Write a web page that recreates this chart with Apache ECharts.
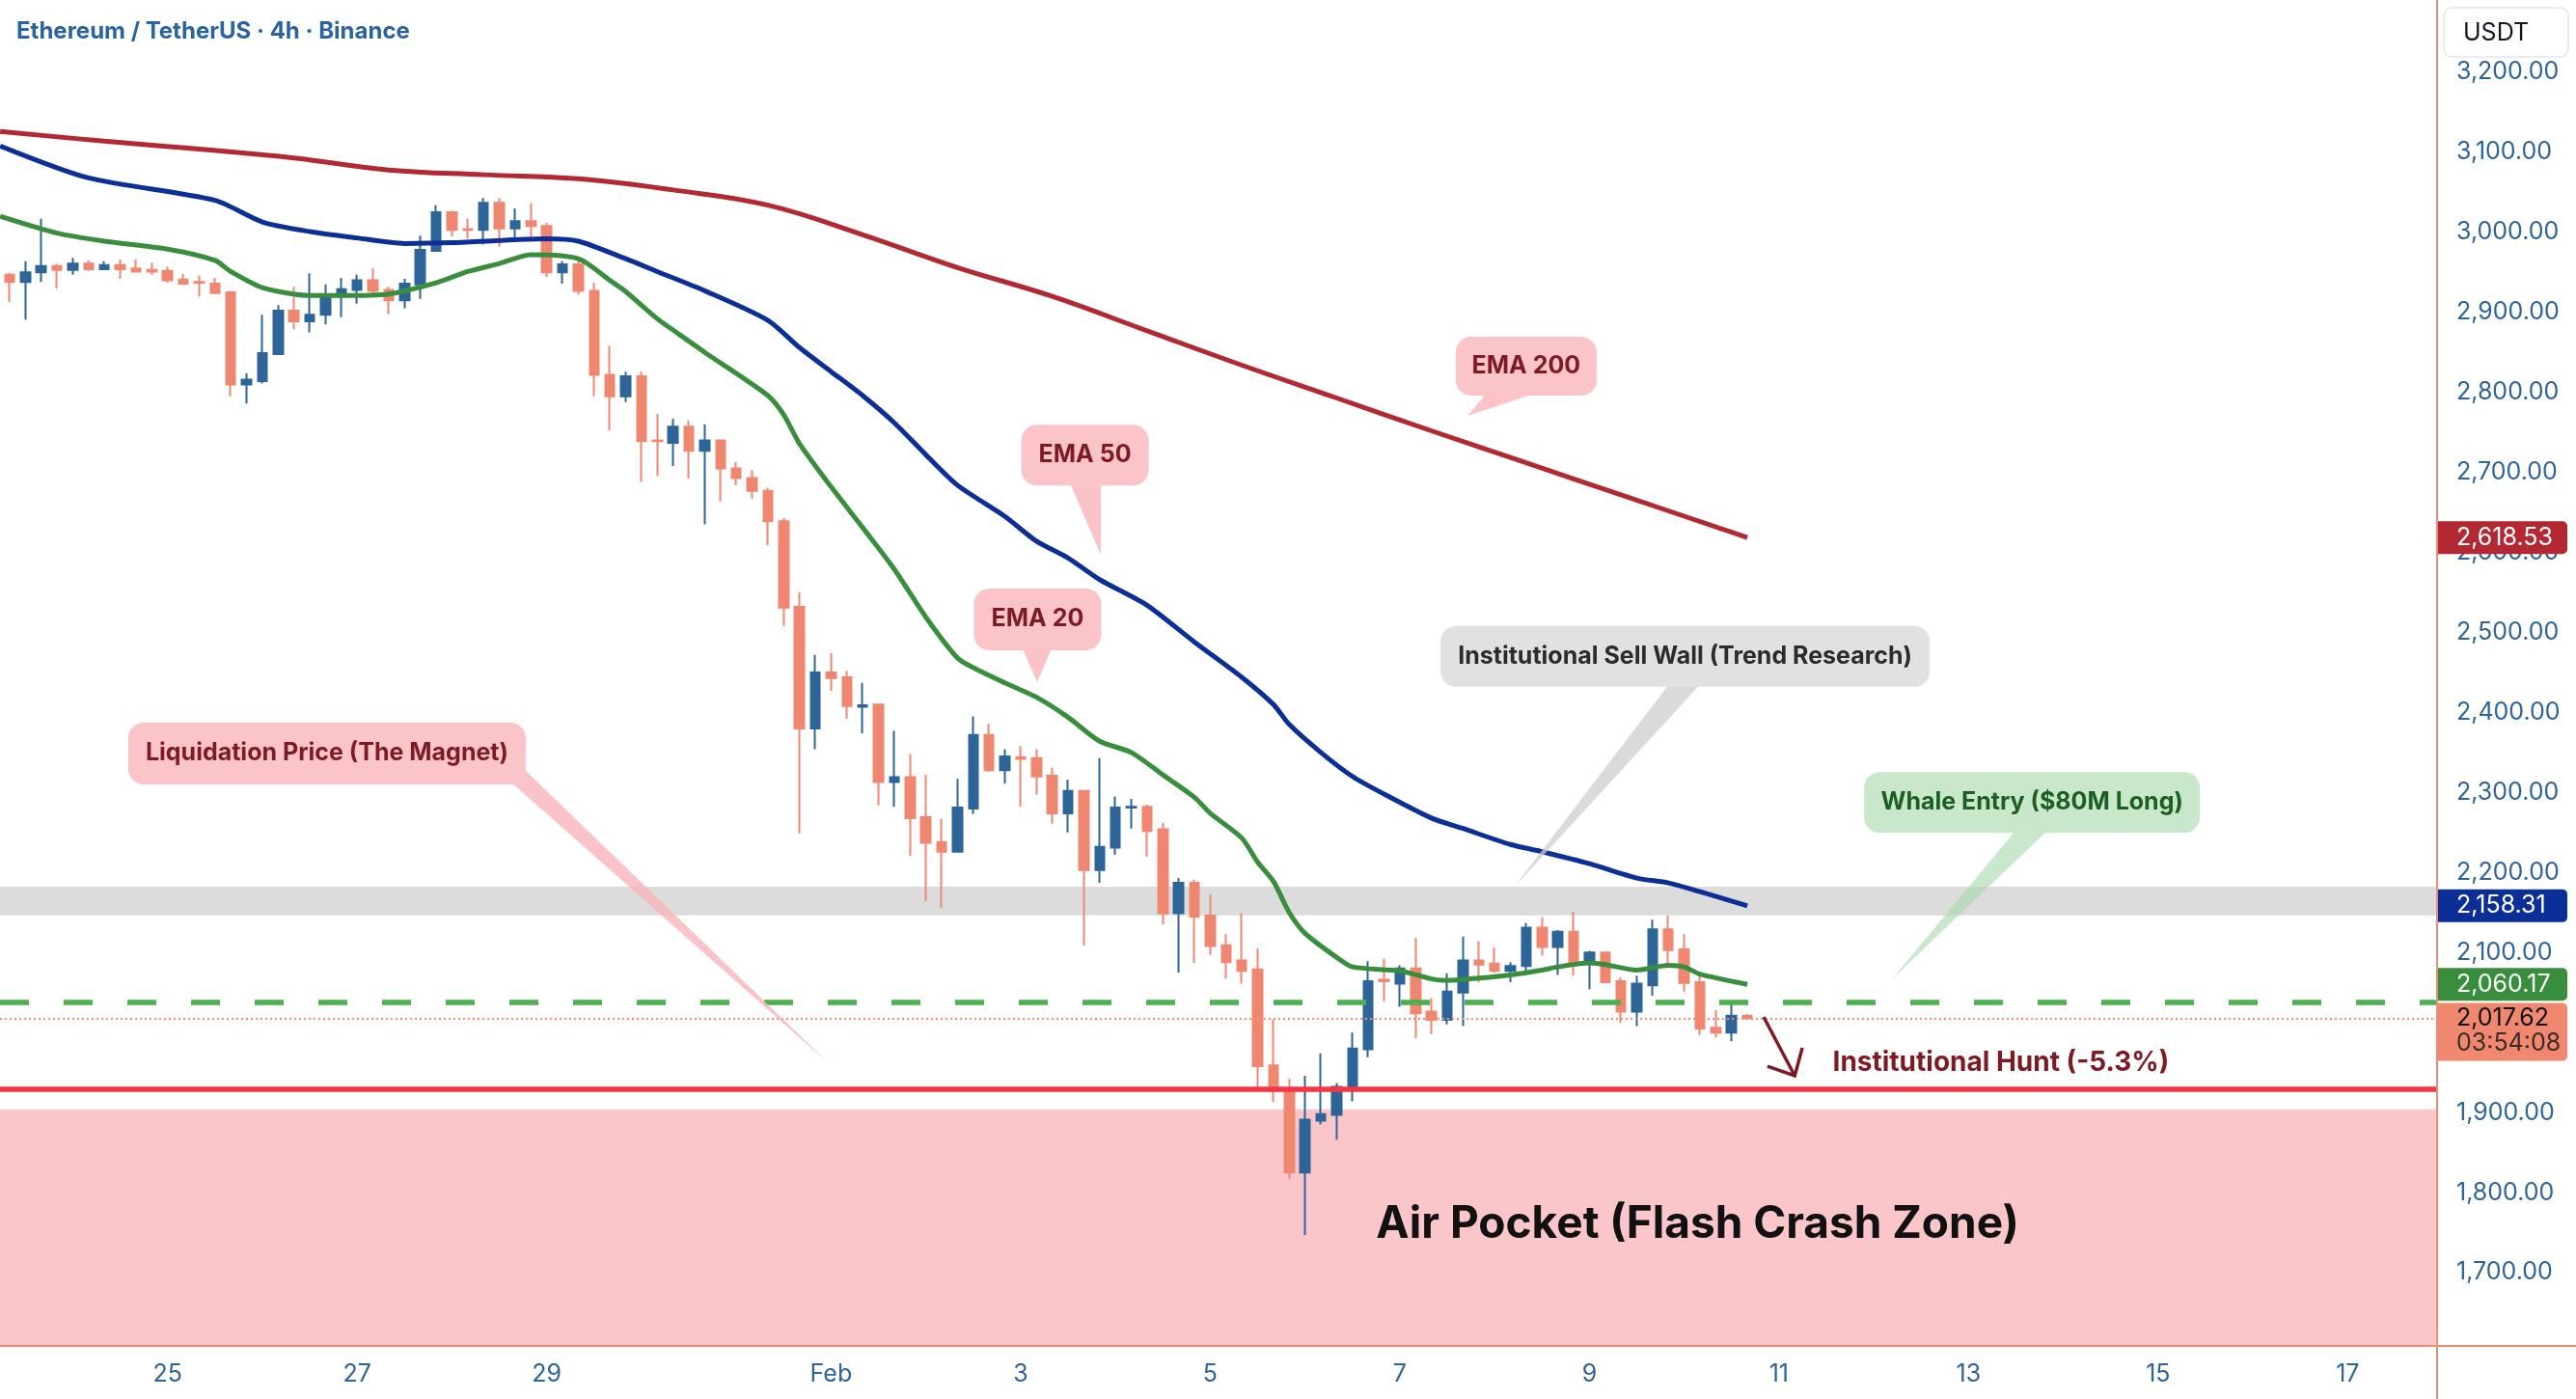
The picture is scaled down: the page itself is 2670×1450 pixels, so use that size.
<!DOCTYPE html>
<html>
<head>
<meta charset="utf-8">
<title>ETH/USDT 4h</title>
<script src="https://cdn.jsdelivr.net/npm/echarts@6/dist/echarts.min.js"></script>
<style>
  html, body { margin: 0; padding: 0; background: #ffffff; }
  #chart { width: 2670px; height: 1450px; }
</style>
</head>
<body>
<div id="chart"></div>
<script>
// bar 0 = 23 Jan 08:00 UTC, one bar every 4 hours
const barStart = Date.UTC(2026, 0, 23, 8);
const barHours = 4;

// candles
const opens = [
  2947, 2938, 2950, 2958, 2953, 2961, 2954, 2959, 2955, 2953,
  2952, 2941, 2938, 2936, 2925, 2810, 2814, 2848, 2902, 2889,
  2897, 2920, 2928, 2940, 2928, 2915, 2935, 2977, 3025, 3004,
  3003, 3037, 3005, 3014, 3008, 2950, 2960, 2927, 2822, 2795,
  2820, 2740, 2737, 2757, 2727, 2740, 2705, 2693, 2677, 2639,
  2532, 2380, 2450, 2444, 2407, 2410, 2313, 2319, 2269, 2238,
  2226, 2280, 2372, 2328, 2344, 2343, 2321, 2274, 2302, 2203,
  2231, 2281, 2282, 2254, 2149, 2187, 2146, 2109, 2090, 2079,
  1959, 1928, 1825, 1890, 1897, 1931, 1979, 2066, 2061, 2080,
  2026, 2016, 2050, 2090, 2086, 2077, 2083, 2131, 2107, 2126,
  2087, 2100, 2064, 2026, 2059, 2129, 2104, 2063, 2006, 2000,
  2021
];
const closes = [
  2938, 2950, 2958, 2953, 2961, 2954, 2959, 2954, 2951, 2951,
  2940, 2936, 2937, 2924, 2810, 2816, 2849, 2902, 2889, 2897,
  2922, 2929, 2940, 2927, 2915, 2936, 2978, 3025, 3003, 3003,
  3037, 3005, 3014, 3008, 2950, 2960, 2927, 2822, 2795, 2820,
  2739, 2739, 2757, 2727, 2740, 2705, 2693, 2677, 2639, 2531,
  2380, 2450, 2443, 2408, 2409, 2313, 2319, 2268, 2237, 2226,
  2281, 2372, 2328, 2345, 2342, 2320, 2274, 2302, 2203, 2232,
  2281, 2282, 2252, 2149, 2187, 2145, 2108, 2088, 2077, 1958,
  1927, 1825, 1891, 1898, 1932, 1980, 2064, 2064, 2080, 2024,
  2016, 2051, 2090, 2085, 2077, 2083, 2131, 2107, 2126, 2087,
  2100, 2063, 2026, 2061, 2129, 2103, 2062, 2005, 2000, 2021,
  2017.62
];
const lows = [
  2913, 2891, 2938, 2930, 2947, 2952, 2953, 2942, 2951, 2947,
  2937, 2934, 2920, 2924, 2795, 2786, 2811, 2848, 2879, 2875,
  2885, 2894, 2911, 2924, 2898, 2905, 2917, 2977, 2995, 2992,
  2985, 2982, 2988, 2995, 2944, 2936, 2922, 2795, 2753, 2788,
  2688, 2696, 2708, 2692, 2635, 2664, 2684, 2667, 2609, 2508,
  2249, 2354, 2427, 2392, 2374, 2284, 2282, 2221, 2164, 2156,
  2226, 2273, 2326, 2311, 2282, 2297, 2261, 2250, 2109, 2187,
  2222, 2255, 2220, 2135, 2075, 2087, 2097, 2067, 2061, 1926,
  1913, 1817, 1747, 1885, 1866, 1914, 1969, 2039, 2032, 1993,
  1998, 2010, 2008, 2063, 2075, 2063, 2077, 2096, 2072, 2071,
  2054, 2063, 2012, 2008, 2046, 2087, 2051, 1997, 1994, 1989,
  2016
];
const highs = [
  2949, 2964, 3017, 2961, 2968, 2965, 2964, 2966, 2966, 2962,
  2957, 2948, 2946, 2943, 2927, 2824, 2897, 2909, 2932, 2949,
  2935, 2943, 2947, 2955, 2932, 2942, 2996, 3034, 3027, 3017,
  3043, 3043, 3030, 3036, 3012, 2964, 2968, 2937, 2858, 2826,
  2826, 2773, 2767, 2765, 2760, 2740, 2713, 2703, 2681, 2643,
  2550, 2472, 2474, 2452, 2437, 2410, 2377, 2348, 2322, 2267,
  2317, 2395, 2386, 2354, 2358, 2354, 2331, 2316, 2302, 2343,
  2295, 2292, 2285, 2262, 2193, 2191, 2173, 2123, 2149, 2105,
  2016, 1942, 1946, 1974, 1937, 2000, 2089, 2092, 2084, 2118,
  2043, 2074, 2120, 2114, 2106, 2088, 2137, 2144, 2128, 2151,
  2102, 2101, 2069, 2071, 2141, 2146, 2123, 2073, 2028, 2039,
  2023
];

// moving averages at these bars
const ema20Bars = [-0.6, 3, 6, 10, 13, 14, 16, 19, 21, 24, 27, 29, 31, 33, 36, 38, 39, 41, 43, 44, 48, 49, 50, 52, 54, 56, 58, 60, 61, 63, 65, 67, 69, 71, 73, 75, 76, 78, 79, 80, 81, 82, 84, 85, 88, 90, 91, 93, 95, 97, 98, 100, 101, 103, 105, 106, 107, 110];
const ema20 = [3020, 2999, 2989, 2979, 2965, 2951, 2931, 2921, 2921, 2923, 2937, 2951, 2961, 2972, 2967, 2940, 2926, 2892, 2864, 2850, 2796, 2772, 2736, 2682, 2631, 2579, 2519, 2468, 2456, 2437, 2419, 2394, 2364, 2350, 2322, 2294, 2274, 2243, 2213, 2189, 2150, 2124, 2094, 2082, 2077, 2067, 2065, 2068, 2072, 2078, 2082, 2087, 2085, 2078, 2084, 2082, 2073, 2060.17];
const ema50Bars = [-0.6, 5, 13, 16, 19, 22, 25, 28, 31, 34, 36, 39, 41, 44, 48, 50, 52, 54, 56, 58, 60, 63, 65, 67, 69, 72, 75, 78, 80, 81, 83, 85, 87, 90, 92, 95, 97, 100, 103, 105, 107, 110];
const ema50 = [3108, 3068, 3040, 3013, 3001, 2993, 2986, 2987, 2990, 2992, 2989, 2967, 2951, 2927, 2890, 2856, 2826, 2796, 2762, 2722, 2684, 2645, 2614, 2593, 2566, 2534, 2488, 2444, 2410, 2385, 2350, 2320, 2298, 2268, 2255, 2235, 2226, 2211, 2193, 2187, 2176, 2158.31];
const ema200Bars = [-0.6, 6, 12, 18, 24, 30, 36, 42, 48, 54, 60, 66, 72, 78, 84, 90, 96, 102, 110];
const ema200 = [3126, 3114, 3104, 3093, 3078, 3072, 3067, 3053, 3034, 2997, 2956, 2920, 2877, 2834, 2793, 2752, 2712, 2672, 2618.53];

// levels
const sellWall = [2146.5, 2182.3];
const whaleEntry = 2038;
const liquidation = 1929;
const airPocketTop = 1904;
const lastPrice = 2017.62;
const countdown = '03:54:08';

// axis ticks
const tickDates = ['2026-01-25', '2026-01-27', '2026-01-29', '2026-02-01', '2026-02-03', '2026-02-05', '2026-02-07', '2026-02-09', '2026-02-11', '2026-02-13', '2026-02-15', '2026-02-17'];
const tickLabels = ['25', '27', '29', 'Feb', '3', '5', '7', '9', '11', '13', '15', '17'];
const priceTicks = [1700, 1800, 1900, 2000, 2100, 2200, 2300, 2400, 2500, 2600, 2700, 2800, 2900, 3000, 3100, 3200];

const W = 2670, H = 1450;
const gridRight = 144, gridBottom = 55;
const axisX = W - gridRight, axisY = H - gridBottom;
const upColor = '#2d6599', downColor = '#ef8670';
const axisColor = '#ef8a73', labelColor = '#2f6497';
const font = 'Inter';

const tickIdx = tickDates.map(d => (Date.parse(d + 'T00:00:00Z') - barStart) / (barHours * 3600e3));
const labelAt = {};
tickIdx.forEach((v, k) => { labelAt[v] = tickLabels[k]; });
const fmt = v => v.toLocaleString('en-US', { minimumFractionDigits: 2, maximumFractionDigits: 2 });

const candles = opens.map((o, i) => [i, o, closes[i], lows[i], highs[i]]);
const pairs = (xs, ys) => xs.map((x, k) => [x, ys[k]]);

function emaLine(name, xs, ys, color, smooth) {
  return {
    name: name, type: 'line', z: 3,
    data: pairs(xs, ys),
    showSymbol: false, smooth: smooth,
    lineStyle: { color: color, width: 5 },
    silent: true
  };
}

const chart = echarts.init(document.getElementById('chart'));

const option = {
  animation: false,
  backgroundColor: '#ffffff',
  title: {
    text: 'Ethereum / TetherUS · 4h · Binance',
    left: 17, top: 21, padding: 0,
    textStyle: { color: '#2a64a0', fontSize: 24, fontWeight: 'bold', fontFamily: font }
  },
  grid: { left: 0, right: gridRight, top: 0, bottom: gridBottom },
  xAxis: {
    type: 'value', min: -0.61, max: 153.66,
    axisLine: { show: false, onZero: false },
    axisTick: { show: false },
    splitLine: { show: false },
    axisLabel: {
      customValues: tickIdx,
      formatter: v => labelAt[Math.round(v)] || '',
      color: labelColor, fontSize: 25, fontFamily: font, margin: 17
    }
  },
  yAxis: {
    type: 'value', position: 'right', min: 1608.3, max: 3290.4,
    axisLine: { show: false, onZero: false },
    axisTick: { show: false },
    splitLine: { show: false },
    axisLabel: {
      customValues: priceTicks,
      formatter: v => fmt(v),
      color: labelColor, fontSize: 25, fontFamily: font, margin: 20
    }
  },
  series: [
    {
      name: 'ETHUSDT', type: 'candlestick', z: 2,
      data: candles,
      barWidth: 10,
      itemStyle: {
        color: upColor, color0: downColor,
        borderColor: upColor, borderColor0: downColor,
        borderWidth: 2
      },
      markArea: {
        silent: true,
        data: [
          [{ yAxis: sellWall[0], itemStyle: { color: '#dcdcdc' } }, { yAxis: sellWall[1] }],
          [{ yAxis: 1608.3, itemStyle: { color: '#fac6ca' } }, { yAxis: airPocketTop }]
        ]
      },
      markLine: {
        silent: true, symbol: 'none', label: { show: false },
        data: [
          { yAxis: whaleEntry, lineStyle: { color: '#4caf50', width: 5.5, type: [30, 36] } },
          { yAxis: liquidation, lineStyle: { color: '#f23645', width: 5.5, type: 'solid' } },
          { yAxis: lastPrice, lineStyle: { color: '#f08a70', width: 2, type: [2, 3] } }
        ]
      }
    },
    emaLine('EMA 200', ema200Bars, ema200, '#b22833', 0.4),
    emaLine('EMA 50', ema50Bars, ema50, '#0c2f97', 0.25),
    emaLine('EMA 20', ema20Bars, ema20, '#388e3c', 0.25)
  ]
};

chart.setOption(option);

// annotations anchored to (bar, price)
const themes = {
  pink: { fill: '#fac4c9', tail: 'rgba(248,180,188,0.8)', ink: '#7d1a24' },
  gray: { fill: '#e1e1e1', tail: 'rgba(205,205,205,0.75)', ink: '#2b2b2b' },
  green: { fill: '#c9e7cb', tail: 'rgba(165,216,168,0.6)', ink: '#1d5e22' }
};
const bubbles = [
  { text: 'EMA 200', box: [96.0, 2832.8], tip: [92.3, 2770.7], w: 146, h: 61, base: [[-41, 28], [10, 28]], theme: 'pink', size: 25 },
  { text: 'EMA 50', box: [68.07, 2721.6], tip: [69.07, 2597.1], w: 132, h: 63, base: [[-15.5, 29], [16.5, 29]], theme: 'pink', size: 25 },
  { text: 'EMA 20', box: [65.07, 2516.3], tip: [65.04, 2437.6], w: 132, h: 64, base: [[-16, 29], [15, 29]], theme: 'pink', size: 25 },
  { text: 'Liquidation Price (The Magnet)', box: [20.09, 2348.7], tip: [51.91, 1960.4], w: 412, h: 64, base: [[190, 29], [203, 15]], theme: 'pink', size: 25 },
  { text: 'Institutional Sell Wall (Trend Research)', box: [106.06, 2470], tip: [95.21, 2181], w: 507, h: 63, base: [[-16.7, 29], [15.7, 29]], theme: 'gray', size: 25 },
  { text: 'Whale Entry ($80M Long)', box: [128.02, 2287.5], tip: [119.15, 2066.5], w: 348, h: 63, base: [[-17, 29], [16, 29]], theme: 'green', size: 25 }
];
const airPocketAt = [86.5, 1760];
const huntAt = [115.4, 1962];
const arrowFrom = [111.03, 2019.5], arrowTo = [113.0, 1945.9];
const priceTags = [
  { value: ema200[ema200.length - 1], fill: '#b22833', ink: '#ffffff' },
  { value: ema50[ema50.length - 1], fill: '#0c2f97', ink: '#ffffff' },
  { value: ema20[ema20.length - 1], fill: '#388e3c', ink: '#ffffff' }
];

const toPx = p => chart.convertToPixel({ xAxisIndex: 0, yAxisIndex: 0 }, p);

function buildGraphics() {
  const els = [];
  // frame lines run past the plot like the original
  els.push({ type: 'line', z: 40, shape: { x1: axisX, y1: 0, x2: axisX, y2: H }, style: { stroke: axisColor, lineWidth: 2 } });
  els.push({ type: 'line', z: 40, shape: { x1: 0, y1: axisY, x2: W, y2: axisY }, style: { stroke: axisColor, lineWidth: 2 } });

  bubbles.forEach(b => {
    const th = themes[b.theme];
    const [cx, cy] = toPx(b.box);
    const [tx, ty] = toPx(b.tip);
    els.push({
      type: 'polygon', z: 20,
      shape: { points: [[cx + b.base[0][0], cy + b.base[0][1]], [cx + b.base[1][0], cy + b.base[1][1]], [tx, ty]] },
      style: { fill: th.tail }
    });
    els.push({
      type: 'rect', z: 21,
      shape: { x: cx - b.w / 2, y: cy - b.h / 2, width: b.w, height: b.h, r: 16 },
      style: { fill: th.fill }
    });
    els.push({
      type: 'text', z: 22, x: cx, y: cy,
      style: { text: b.text, fill: th.ink, font: 'bold ' + b.size + 'px ' + font, textAlign: 'center', textVerticalAlign: 'middle' }
    });
  });

  const ap = toPx(airPocketAt);
  els.push({
    type: 'text', z: 22, x: ap[0], y: ap[1],
    style: { text: 'Air Pocket (Flash Crash Zone)', fill: '#111111', font: 'bold 46px ' + font, textAlign: 'left', textVerticalAlign: 'middle' }
  });
  const hp = toPx(huntAt);
  els.push({
    type: 'text', z: 22, x: hp[0], y: hp[1],
    style: { text: 'Institutional Hunt (-5.3%)', fill: '#7d1a24', font: 'bold 28px ' + font, textAlign: 'left', textVerticalAlign: 'middle' }
  });

  // arrow
  const a0 = toPx(arrowFrom), a1 = toPx(arrowTo);
  const dx = a1[0] - a0[0], dy = a1[1] - a0[1];
  const len = Math.hypot(dx, dy);
  const bx = -dx / len, by = -dy / len;
  const arm = (ang) => {
    const c = Math.cos(ang), s = Math.sin(ang);
    return [a1[0] + 30 * (bx * c - by * s), a1[1] + 30 * (bx * s + by * c)];
  };
  const rad = 43 * Math.PI / 180;
  els.push({ type: 'polyline', z: 22, shape: { points: [a0, a1] }, style: { stroke: '#7d1a24', lineWidth: 3.5, fill: null } });
  els.push({ type: 'polyline', z: 22, shape: { points: [arm(-rad), a1, arm(rad)] }, style: { stroke: '#7d1a24', lineWidth: 3.5, fill: null } });

  // value tags on the price scale
  priceTags.forEach(t => {
    const y = toPx([0, t.value])[1];
    els.push({ type: 'rect', z: 30, shape: { x: axisX + 1, y: y - 17, width: 134, height: 34, r: [0, 5, 5, 0] }, style: { fill: t.fill } });
    els.push({ type: 'text', z: 31, x: axisX + 20, y: y, style: { text: fmt(t.value), fill: t.ink, font: '25px ' + font, textAlign: 'left', textVerticalAlign: 'middle' } });
  });
  const ly = toPx([0, lastPrice])[1];
  els.push({ type: 'rect', z: 30, shape: { x: axisX + 1, y: ly - 16, width: 134, height: 60, r: [0, 5, 5, 0] }, style: { fill: '#f08870' } });
  els.push({ type: 'text', z: 31, x: axisX + 20, y: ly, style: { text: fmt(lastPrice), fill: '#111111', font: '25px ' + font, textAlign: 'left', textVerticalAlign: 'middle' } });
  els.push({ type: 'text', z: 31, x: axisX + 20, y: ly + 26, style: { text: countdown, fill: '#3b2b28', font: '25px ' + font, textAlign: 'left', textVerticalAlign: 'middle' } });

  // currency box
  els.push({ type: 'rect', z: 30, shape: { x: axisX + 7, y: 8, width: 129, height: 51, r: 8 }, style: { fill: '#ffffff', stroke: '#e3e5ea', lineWidth: 1.5 } });
  els.push({ type: 'text', z: 31, x: axisX + 27, y: 34, style: { text: 'USDT', fill: '#131722', font: '25px ' + font, textAlign: 'left', textVerticalAlign: 'middle' } });
  return els;
}

chart.setOption({ graphic: buildGraphics() });
</script>
</body>
</html>
